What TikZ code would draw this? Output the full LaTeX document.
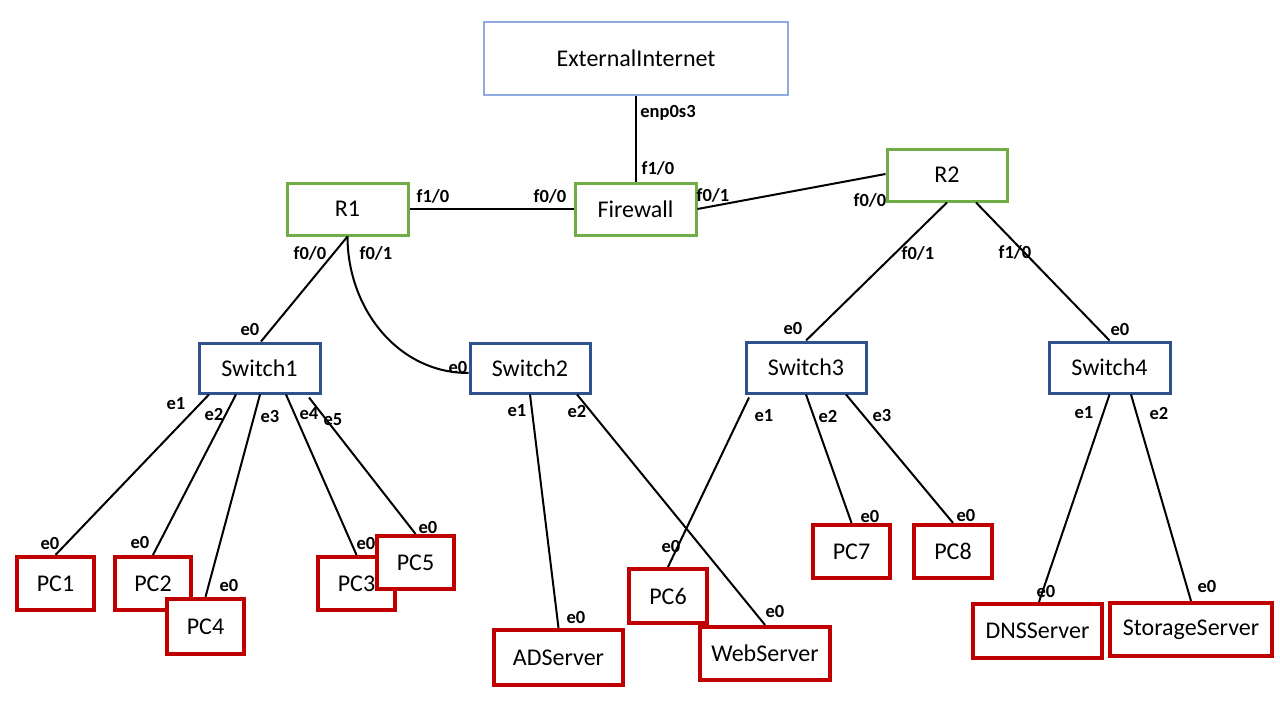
\documentclass[tikz,border=0pt]{standalone}
\usepackage{fontspec}
\setmainfont{Carlito}
\definecolor{netgreen}{HTML}{70AD47}
\definecolor{netblue}{HTML}{2F528F}
\definecolor{netlight}{HTML}{8FAADC}
\definecolor{netred}{HTML}{C00000}
\begin{document}
\begin{tikzpicture}[x=1pt,y=-1pt,
  box/.style={draw, rectangle, inner sep=0pt, fill=white,
    font=\fontsize{24}{28}\selectfont},
  cloudbox/.style={box, draw=netlight, line width=2.3pt},
  routerbox/.style={box, draw=netgreen, line width=3pt},
  switchbox/.style={box, draw=netblue, line width=3pt},
  hostbox/.style={box, draw=netred, line width=4.2pt},
  link/.style={draw=black, line width=2pt},
  port/.style={inner sep=0pt, font=\fontsize{18.5}{20}\selectfont\bfseries}]
\useasboundingbox (0,0) rectangle (1280,720);
\fill[white] (0,0) rectangle (1280,720);

% core devices
\node[cloudbox, minimum width=304, minimum height=73] (ext) at (636,58.5) {ExternalInternet};
\node[routerbox, minimum width=121, minimum height=52] (fw) at (635.5,209) {Firewall};
\node[routerbox, minimum width=121, minimum height=52] (r1) at (347.5,209) {R1};
\node[routerbox, minimum width=120, minimum height=52] (r2) at (947,175) {R2};

% switches
\node[switchbox, minimum width=121, minimum height=50] (sw1) at (259.5,368) {Switch1};
\node[switchbox, minimum width=120, minimum height=50] (sw2) at (530,368) {Switch2};
\node[switchbox, minimum width=120, minimum height=51] (sw3) at (806,367.5) {Switch3};
\node[switchbox, minimum width=121, minimum height=51] (sw4) at (1109.5,367.5) {Switch4};

% links (drawn before the hosts so the boxes cover the line ends)
\draw[link] (fw.north) -- (fw.north |- ext.south);
\draw[link] (r1.east) -- (fw.west);
\draw[link] (fw.east) -- ([yshift=1pt]r2.west);
\draw[link] (r1.south) -- ([xshift=1.5pt]sw1.north);
\draw[link] (r1.south) to[out=-90, in=180] ([yshift=-5pt]sw2.west);
\draw[link] (r2.south) -- (sw3.north);
\draw[link] ([xshift=29pt]r2.south) -- (sw4.north);

% hosts
\node[hostbox, minimum width=77, minimum height=53] (pc1) at (55.5,583.5) {PC1};
\node[hostbox, minimum width=76, minimum height=53] (pc2) at (153,583.5) {PC2};
\node[hostbox, minimum width=77, minimum height=55] (pc4) at (205.5,626.5) {PC4};
\node[hostbox, minimum width=77, minimum height=53] (pc3) at (356.5,583.5) {PC3};
\node[hostbox, minimum width=77, minimum height=53] (pc5) at (415.5,562.5) {PC5};
\node[hostbox, minimum width=129, minimum height=55] (ad) at (558.5,657.5) {ADServer};
\node[hostbox, minimum width=78, minimum height=54] (pc6) at (668,596) {PC6};
\node[hostbox, minimum width=130, minimum height=53] (web) at (765,653.5) {WebServer};
\node[hostbox, minimum width=77, minimum height=53] (pc7) at (851.5,551.5) {PC7};
\node[hostbox, minimum width=78, minimum height=53] (pc8) at (953,551.5) {PC8};
\node[hostbox, minimum width=129, minimum height=54] (dns) at (1037.5,631) {DNSServer};
\node[hostbox, minimum width=162, minimum height=53] (stor) at (1191,629.5) {StorageServer};

% access links
\draw[link] ([xshift=-50.5pt]sw1.south) -- (pc1.north);
\draw[link] ([xshift=-23.5pt]sw1.south) -- (pc2.north);
\draw[link] ([xshift=0.5pt]sw1.south) -- (pc4.north);
\draw[link] ([xshift=26.5pt]sw1.south) -- (pc3.north);
\draw[link] ([xshift=49.5pt,yshift=-3pt]sw1.south) -- (pc5.north);
\draw[link] (sw2.south) -- (ad.north);
\draw[link] ([xshift=47pt]sw2.south) -- (web.north);
\draw[link] ([xshift=-57pt,yshift=-3pt]sw3.south) -- (pc6.north);
\draw[link] (sw3.south) -- (pc7.north);
\draw[link] ([xshift=40pt]sw3.south) -- (pc8.north);
\draw[link] (sw4.south) -- ([xshift=1.5pt]dns.north);
\draw[link] ([xshift=21.5pt]sw4.south) -- (stor.north);

% port labels
\node[port] (p1) at (668,113) {enp0s3};
\node[port] (p2) at (658,168) {f1/0};
\node[port] (p3) at (433,196) {f1/0};
\node[port] (p4) at (550,196) {f0/0};
\node[port] (p5) at (713,195) {f0/1};
\node[port] (p6) at (870,200) {f0/0};
\node[port] (p7) at (310,253) {f0/0};
\node[port] (p8) at (250,329) {e0};
\node[port] (p9) at (376,253) {f0/1};
\node[port] (p10) at (458,367) {e0};
\node[port] (p11) at (918,253) {f0/1};
\node[port] (p12) at (793,328) {e0};
\node[port] (p13) at (1015,252) {f1/0};
\node[port] (p14) at (1120,329) {e0};

\node[port] (q1) at (176,404) {e1};
\node[port] (q2) at (50,543) {e0};
\node[port] (q3) at (214,414) {e2};
\node[port] (q4) at (140,542) {e0};
\node[port] (q5) at (270,416) {e3};
\node[port] (q6) at (229,585) {e0};
\node[port] (q7) at (309,414) {e4};
\node[port] (q8) at (366,543) {e0};
\node[port] (q9) at (333,420) {e5};
\node[port] (q10) at (428,527) {e0};

\node[port] (s1) at (517,411) {e1};
\node[port] (s2) at (576,617) {e0};
\node[port] (s3) at (577,411) {e2};
\node[port] (s4) at (775,611) {e0};
\node[port] (s5) at (764,416) {e1};
\node[port] (s6) at (671,546) {e0};
\node[port] (s7) at (828,416) {e2};
\node[port] (s8) at (870,516) {e0};
\node[port] (s9) at (882,415) {e3};
\node[port] (s10) at (966,515) {e0};
\node[port] (s11) at (1084,413) {e1};
\node[port] (s12) at (1046,591) {e0};
\node[port] (s13) at (1159,413) {e2};
\node[port] (s14) at (1207,586) {e0};
\end{tikzpicture}
\end{document}
